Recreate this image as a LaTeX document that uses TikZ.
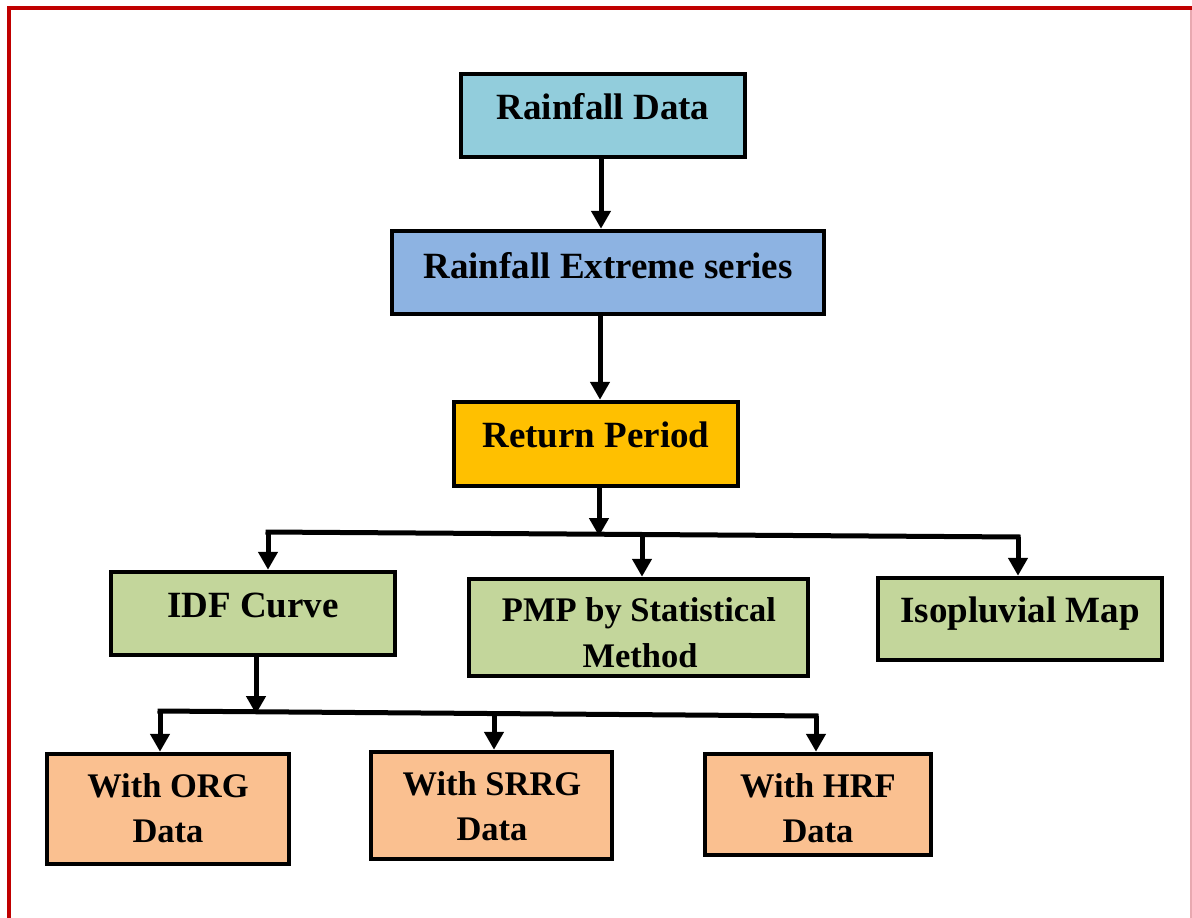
\documentclass[tikz,border=0pt]{standalone}
\usepackage{fontspec}
\setmainfont{Liberation Serif}
\usetikzlibrary{arrows.meta}
\definecolor{cRD}{HTML}{92CDDC}
\definecolor{cRES}{HTML}{8DB3E2}
\definecolor{cRP}{HTML}{FFC000}
\definecolor{cGreen}{HTML}{C3D69B}
\definecolor{cOrange}{HTML}{FAC090}
\definecolor{cFrame}{HTML}{C00000}
\definecolor{cPink}{HTML}{E8A8B0}
\tikzset{
  box/.style={draw=black, line width=4.5pt, rectangle, inner sep=0pt},
  txt/.style={anchor=base, inner sep=0pt, font=\fontsize{37}{44}\selectfont\bfseries},
  txts/.style={anchor=base, inner sep=0pt, font=\fontsize{34.5}{42}\selectfont\bfseries},
  ln/.style={draw=black, line width=5pt},
  arr/.style={draw=black, line width=5pt, -{Triangle[width=19pt,length=18pt]}},
  frame/.style={draw=cFrame, line width=4.5pt},
}
\begin{document}
\begin{tikzpicture}[x=1pt,y=-1pt]
\useasboundingbox (0,0) rectangle (1192,918);
% frame
\draw[frame] (7,8) -- (1192,8);
\draw[frame] (9,6) -- (9,918);
\draw[draw=cPink, line width=1.5pt] (1191,10) -- (1191,918);

% boxes
\node[box, fill=cRD, minimum width=284pt, minimum height=83pt] (rd) at (603,115.5) {};
\node[box, fill=cRES, minimum width=432pt, minimum height=83pt] (res) at (608,272.5) {};
\node[box, fill=cRP, minimum width=284pt, minimum height=84pt] (rp) at (596,444) {};
\node[box, fill=cGreen, minimum width=284pt, minimum height=83pt] (idf) at (253,613.5) {};
\node[box, fill=cGreen, minimum width=339pt, minimum height=97pt] (pmp) at (638.5,627.5) {};
\node[box, fill=cGreen, minimum width=284pt, minimum height=82pt] (iso) at (1020,619) {};
\node[box, fill=cOrange, minimum width=242pt, minimum height=110pt] (org) at (168,809) {};
\node[box, fill=cOrange, minimum width=241pt, minimum height=107pt] (srrg) at (491.5,805.5) {};
\node[box, fill=cOrange, minimum width=226pt, minimum height=101pt] (hrf) at (818,804.5) {};

% texts
\node[txt] (rdT) at (603,119) {Rainfall Data};
\node[txt] (resT) at (608,278) {Rainfall Extreme series};
\node[txt] (rpT) at (596,447) {Return Period};
\node[txt] (idfT) at (253,617) {IDF Curve};
\node[txts] (pmpT1) at (639,621) {PMP by Statistical};
\node[txts] (pmpT2) at (640,667) {Method};
\node[txt] (isoT) at (1020,622) {Isopluvial Map};
\node[txts] (orgT1) at (168,797) {With ORG};
\node[txts] (orgT2) at (168,842) {Data};
\node[txts] (srrgT1) at (492,795) {With SRRG};
\node[txts] (srrgT2) at (492,840) {Data};
\node[txts] (hrfT1) at (818,797) {With HRF};
\node[txts] (hrfT2) at (818,842) {Data};

% junction coordinates
\coordinate (b1L) at (268,532);
\coordinate (b1M) at (642,535);
\coordinate (b1R) at (1018,537);
\coordinate (b1J) at (599,534);
\coordinate (b2L) at (160,711);
\coordinate (b2M) at (494,713.5);
\coordinate (b2R) at (816,716);
\coordinate (b2J) at (256,712);

% vertical chain
\draw[arr] (rd.south -| 601,0) -- (res.north -| 601,0);
\draw[arr] (res.south -| 600,0) -- (rp.north -| 600,0);

% first split
\draw[arr] (rp.south -| b1J) -- ([yshift=-2pt]b1J);
\draw[ln] ([xshift=-2.5pt]b1L) -- ([xshift=2.5pt]b1R);
\draw[arr] (b1L) -- (b1L |- idf.north);
\draw[arr] (b1M) -- (b1M |- pmp.north);
\draw[arr] (b1R) -- (b1R |- iso.north);

% second split
\draw[arr] (idf.south -| b2J) -- ([yshift=-2pt]b2J);
\draw[ln] ([xshift=-2.5pt]b2L) -- ([xshift=2.5pt]b2R);
\draw[arr] (b2L) -- (b2L |- org.north);
\draw[arr] (b2M) -- (b2M |- srrg.north);
\draw[arr] (b2R) -- (b2R |- hrf.north);
\end{tikzpicture}
\end{document}
